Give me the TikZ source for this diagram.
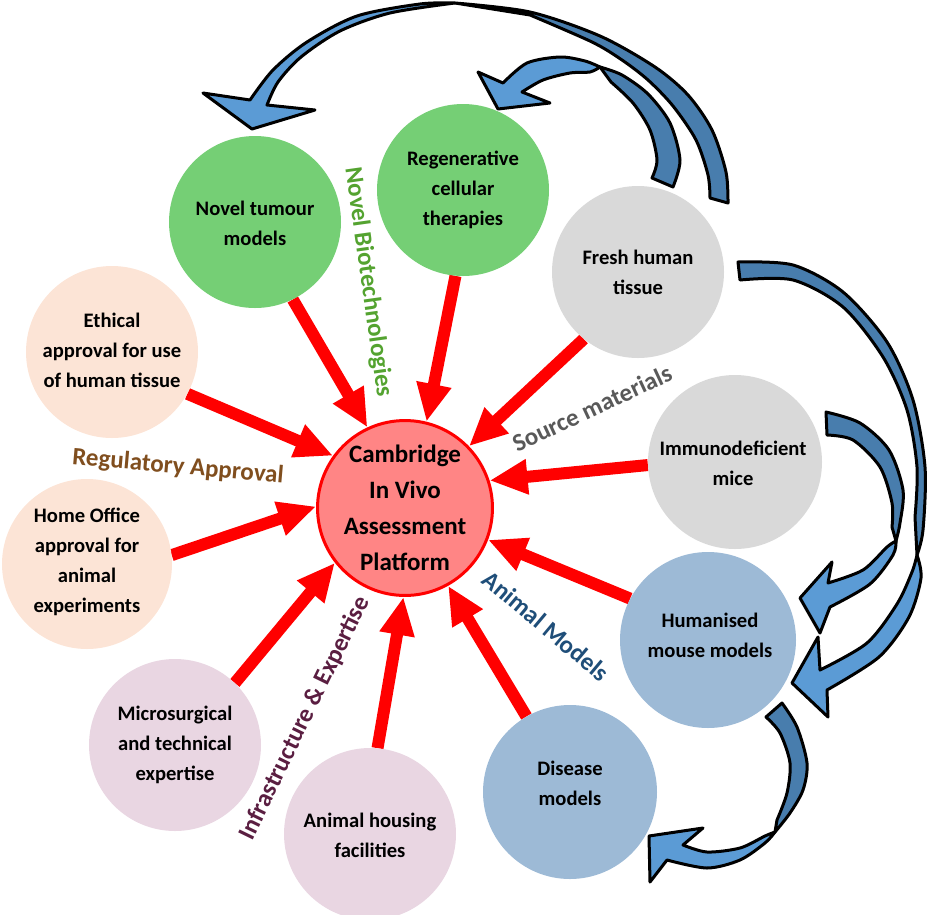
\documentclass[tikz,border=0pt]{standalone}
\usepackage{fontspec}
\setmainfont{Carlito}
\usetikzlibrary{arrows.meta}
\pgfdeclarelayer{bg}
\pgfsetlayers{bg,main}
\definecolor{cgreen}{RGB}{117,207,117}
\definecolor{cgrey}{RGB}{217,217,217}
\definecolor{cpeach}{RGB}{252,228,214}
\definecolor{cpink}{RGB}{233,214,226}
\definecolor{cblue}{RGB}{157,186,214}
\definecolor{ccenter}{RGB}{255,133,133}
\definecolor{bluelight}{RGB}{91,155,213}
\definecolor{bluedark}{RGB}{72,125,173}
\definecolor{lgreen}{RGB}{84,163,48}
\definecolor{lbrown}{RGB}{128,78,30}
\definecolor{lgrey}{RGB}{89,89,89}
\definecolor{lnavy}{RGB}{31,78,121}
\definecolor{lpurple}{RGB}{90,30,65}
\begin{document}
\begin{tikzpicture}[x=1pt,y=-1pt,
  disc/.style={circle,inner sep=0pt,minimum size=172pt,draw=none},
  ctext/.style={align=center,inner sep=0pt,font=\bfseries\fontsize{20.6}{30}\selectfont},
  grp/.style={inner sep=0pt,font=\bfseries\fontsize{25}{28}\selectfont},
  redarrow/.style={draw=red,line width=12pt,-{Triangle[width=33pt,length=38pt]}},
  bluedk/.style={fill=bluedark,draw=black,line width=3pt,line join=round},
  bluelt/.style={fill=bluelight,draw=black,line width=3pt,line join=round},
]
\useasboundingbox (0,0) rectangle (927,914);

% circles
\node[disc,fill=cgreen] (NT) at (255,222) {};
\node[disc,fill=cgreen] (RG) at (463,190) {};
\node[disc,fill=cgrey] (FH) at (638,272) {};
\node[disc,fill=cpeach] (ET) at (112,352) {};
\node[disc,fill=cpeach,minimum size=170pt] (HO) at (87,564) {};
\node[disc,fill=cgrey,minimum size=174pt] (IM) at (735,462) {};
\node[disc,fill=cblue,minimum size=176pt] (HU) at (708,640) {};
\node[disc,fill=cblue,minimum size=174pt] (DI) at (570,792) {};
\node[disc,fill=cpink] (AH) at (370,834) {};
\node[disc,fill=cpink] (MS) at (175,745) {};
\node[circle,inner sep=0pt,minimum size=170pt,fill=ccenter,draw=red,line width=3pt,
      align=center,font=\bfseries\fontsize{25}{36}\selectfont] (C) at (405,508)
      {Cambridge\\In Vivo\\Assessment\\Platform};

% circle texts
\node[ctext] (NTt) at (255,223) {Novel tumour\\models};
\node[ctext] (RGt) at (463,190) {Regenerative\\cellular\\therapies};
\node[ctext] (FHt) at (638,272) {Fresh human\\tissue};
\node[ctext] (ETt) at (112,350) {Ethical\\approval for use\\of human tissue};
\node[ctext] (HOt) at (87,562) {Home Office\\approval for\\animal\\experiments};
\node[ctext] (IMt) at (733,463) {Immunodeficient\\mice};
\node[ctext] (HUt) at (710,635) {Humanised\\mouse models};
\node[ctext] (DIt) at (570,783) {Disease\\models};
\node[ctext] (AHt) at (370,835) {Animal housing\\facilities};
\node[ctext] (MSt) at (175,745) {Microsurgical\\and technical\\expertise};

% group labels
\node[grp,text=lgreen,rotate=-82] (Lnb) at (368,282) {Novel Biotechnologies};
\node[grp,text=lbrown,rotate=-5] (Lra) at (178,467) {Regulatory Approval};
\node[grp,text=lgrey,rotate=25] (Lsm) at (592,408) {Source materials};
\node[grp,text=lnavy,rotate=-40] (Lam) at (546,626) {Animal Models};
\node[grp,text=lpurple,rotate=64] (Lie) at (305,718) {Infrastructure \& Expertise};

% red arrows
\begin{pgfonlayer}{bg}
\draw[redarrow] (NT.-64) -- (C.115);
\draw[redarrow] (RG.-95) -- (C.76);
\draw[redarrow] (FH.-129) -- (C.44);
\draw[redarrow] (ET.-29) -- (C.144);
\draw[redarrow] (HO.6) -- (C.179);
\draw[redarrow] (IM.182) -- (C.18);
\draw[redarrow] (HU.152) -- (C.-21);
\draw[redarrow] (DI.120) -- (C.-61);
\draw[redarrow] (AH.85) -- (C.-91);
\draw[redarrow] (MS.46) -- (C.-142);
\end{pgfonlayer}

% blue curved arrows
% D: fresh tissue -> novel tumour (big top)
\filldraw[bluelt] plot[smooth] coordinates {(455,3) (420,4) (357,16) (307,42) (273,70) (250,100)}
  -- (203,93) -- (252,129) -- (315,110)
  -- plot[smooth] coordinates {(267,105) (278,82) (301,57) (340,31) (390,13) (455,3)} -- cycle;
\filldraw[bluedk] plot[smooth] coordinates {(728,203) (726,172) (712,130) (688,95) (655,67) (600,36) (530,12) (455,3)}
  -- plot[smooth] coordinates {(530,15) (592,42) (622,60) (648,80) (673,106) (696,140) (708,175) (710,198)} -- cycle;
% E: fresh tissue -> regenerative
\filldraw[bluelt] plot[smooth] coordinates {(600,67) (585,61) (560,57) (527,63) (503,83)}
  -- (478,72) -- (498,109) -- (550,103)
  -- plot[smooth] coordinates {(522,92) (543,80) (570,73) (590,72) (600,67)} -- cycle;
\filldraw[bluedk] plot[smooth] coordinates {(673,187) (680,160) (670,123) (648,94) (622,75) (600,67)}
  -- plot[smooth] coordinates {(611,82) (633,103) (650,130) (657,160) (652,178)} -- cycle;
% B: fresh tissue -> humanised
\filldraw[bluelt] plot[smooth] coordinates {(917,555) (921,578) (909,617) (879,657) (827,690)}
  -- (828,717) -- (792,683) -- (818,637)
  -- plot[smooth] coordinates {(820,670) (867,643) (897,604) (912,572) (917,555)} -- cycle;
\filldraw[bluedk] plot[smooth] coordinates {(738,262) (793,265) (843,292) (887,342) (913,400) (925,467) (923,530) (917,555)}
  -- plot[smooth] coordinates {(915,517) (917,467) (907,410) (883,357) (843,307) (793,280) (740,280)} -- cycle;
% C: immunodeficient -> humanised
\filldraw[bluelt] plot[smooth] coordinates {(896,541) (893,555) (870,584) (830,607)}
  -- (820,633) -- (800,598) -- (832,562)
  -- plot[smooth] coordinates {(828,583) (863,570) (887,547) (896,541)} -- cycle;
\filldraw[bluedk] plot[smooth] coordinates {(826,412) (860,423) (889,450) (903,490) (900,523) (896,541)}
  -- plot[smooth] coordinates {(892,527) (892,503) (880,467) (853,440) (827,435)} -- cycle;
% A: humanised -> disease
\filldraw[bluelt] plot[smooth] coordinates {(775,832) (765,843) (740,860) (707,868) (667,860)}
  -- (650,882) -- (649,836) -- (703,828)
  -- plot[smooth] coordinates {(683,845) (707,852) (740,848) (765,836) (775,832)} -- cycle;
\filldraw[bluedk] plot[smooth] coordinates {(782,703) (797,727) (807,763) (803,790) (790,813) (775,832)}
  -- plot[smooth] coordinates {(777,820) (787,793) (790,763) (780,733) (766,717)} -- cycle;
\end{tikzpicture}
\end{document}
